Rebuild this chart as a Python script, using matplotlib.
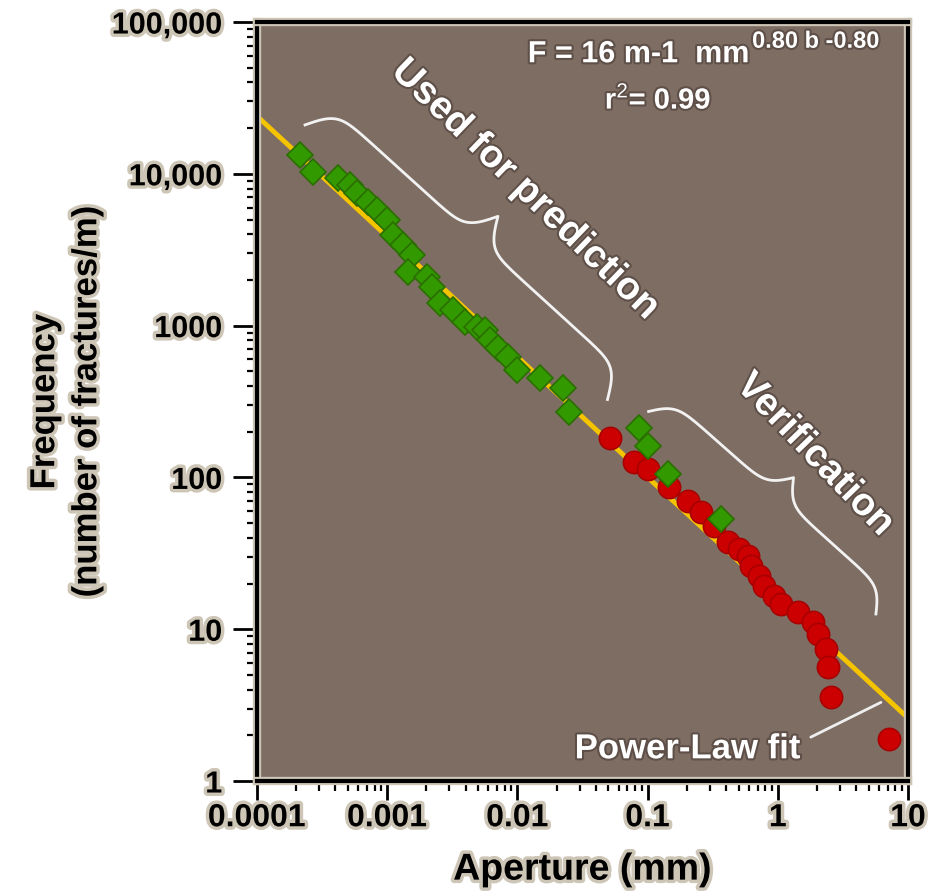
import numpy as np
import matplotlib
matplotlib.use("Agg")
import matplotlib.pyplot as plt
import matplotlib.patheffects as pe
from matplotlib.transforms import IdentityTransform

plt.rcParams['font.family'] = ['Liberation Sans', 'DejaVu Sans']
plt.rcParams['mathtext.fontset'] = 'custom'
plt.rcParams['mathtext.rm'] = 'Liberation Sans'
plt.rcParams['mathtext.bf'] = 'Liberation Sans:bold'

# green diamonds - used for prediction (aperture mm, fractures/m)
green_aperture = [2.14e-4, 2.70e-4, 4.2e-4, 5.2e-4, 5.9e-4, 7.1e-4, 8.4e-4, 1.0e-3,
                  1.11e-3, 1.33e-3, 1.56e-3, 1.45e-3, 2.03e-3, 2.22e-3, 2.56e-3,
                  3.22e-3, 3.98e-3, 4.92e-3, 5.67e-3, 6.2e-3, 7.14e-3, 8.4e-3,
                  0.0100, 0.0150, 0.0226, 0.0247, 0.0853, 0.100, 0.143, 0.365]
green_freq = [13300, 10300, 9400, 8470, 7500, 6540, 5800, 4980,
              3970, 3410, 2930, 2270, 2100, 1800, 1420,
              1270, 1060, 985, 940, 810, 716, 625,
              514, 455, 391, 268, 213, 160, 105, 53]

# red circles - verification
red_aperture = [0.0519, 0.078, 0.100, 0.145, 0.203, 0.256, 0.322, 0.412, 0.501,
                0.587, 0.62, 0.714, 0.78, 0.93, 1.05, 1.43, 1.86, 2.03, 2.34,
                2.43, 2.56, 7.14]
red_freq = [183, 127, 113, 87, 69.5, 58.8, 47.6, 37.4, 33.6,
            30.2, 26.0, 22.3, 19.2, 16.5, 14.6, 12.9, 11.1, 9.27, 7.38,
            5.62, 3.57, 1.89]

# power-law fit line, end points
fit_aperture = [1e-4, 10]
fit_freq = [24000, 2.6]

x_ticks = [1e-4, 1e-3, 1e-2, 1e-1, 1, 10]
x_ticklabels = ["0.0001", "0.001", "0.01", "0.1", "1", "10"]
y_ticks = [1, 10, 100, 1000, 1e4, 1e5]
y_ticklabels = ["1", "10", "100", "1000", "10,000", "100,000"]

BG = '#7e6d63'
HALO = '#cdc5b5'
halo = [pe.withStroke(linewidth=5, foreground=HALO)]
shadow = [pe.withStroke(linewidth=3, foreground='#5e5048')]


def brace(ax, p0, p1, height, beta=0.12, **kw):
    # curly brace between two data points, drawn in pixels
    a = ax.transData.transform(p0)
    b = ax.transData.transform(p1)
    d = b - a
    L = np.hypot(d[0], d[1])
    t = d / L
    n = np.array([-t[1], t[0]])
    if n[0] < 0:
        n = -n
    half = L / 2
    u = np.linspace(0, half, 300)
    s = 1 / (1 + np.exp(-beta * u)) + 1 / (1 + np.exp(-beta * (u - half)))
    v = np.concatenate([s, s[::-1]]) - 0.5
    uu = np.concatenate([u, L - u[::-1]])
    pts = a + np.outer(uu, t) + np.outer(v * height, n)
    ax.plot(pts[:, 0], pts[:, 1], transform=IdentityTransform(), **kw)


fig = plt.figure(figsize=(9.31, 8.92), dpi=100)
ax = fig.add_axes([0.276, 0.1244, 0.6993, 0.8509])
ax.set_facecolor(BG)
ax.set_xscale('log')
ax.set_yscale('log')
ax.set_xlim(1e-4, 10)
ax.set_ylim(1, 1e5)
ax.autoscale(False)

ax.plot(fit_aperture, fit_freq, color='#f5c400', lw=3.5, zorder=2)
ax.plot(red_aperture, red_freq, 'o', ms=16, mfc='#cc0000', mec='#a80000',
        mew=1.2, zorder=3)
ax.plot(green_aperture, green_freq, 'D', ms=13, mfc='#339900', mec='#2a6e00',
        mew=1.2, zorder=4)

ax.set_xticks(x_ticks, x_ticklabels)
ax.set_yticks(y_ticks, y_ticklabels)
ax.tick_params(axis='x', which='major', length=14, width=2, pad=2,
               labelsize=23, direction='out')
ax.tick_params(axis='x', which='minor', length=7, width=1.6, direction='out')
ax.tick_params(axis='y', which='major', length=17, width=2, pad=8,
               labelsize=22, direction='out')
ax.tick_params(axis='y', which='minor', length=7, width=1.6, direction='out')
for lbl in ax.get_xticklabels() + ax.get_yticklabels():
    lbl.set_fontweight('bold')
    lbl.set_path_effects(halo)
for sp in ax.spines.values():
    sp.set_linewidth(3)
    sp.set_color('black')
    sp.set_path_effects([pe.withStroke(linewidth=6, foreground=HALO)])

ax.set_xlabel("Aperture (mm)", fontsize=27, fontweight='bold', path_effects=halo)
ax.xaxis.set_label_coords(0.5, -0.093)
ax.set_ylabel("Frequency\n(number of fractures/m)", fontsize=25,
              fontweight='bold', linespacing=1.35, path_effects=halo)
ax.yaxis.set_label_coords(-0.236, 0.5)

# equation
eq = ax.text(0.416, 0.947, "F = 16 m-1  mm", transform=ax.transAxes,
             color='white', fontsize=22, fontweight='bold',
             ha='left', va='baseline', path_effects=shadow)
ax.annotate("0.80 b -0.80", xy=(1, 0.55), xycoords=eq, xytext=(2, 0),
            textcoords='offset points', color='white', fontsize=17,
            fontweight='bold', ha='left', va='bottom', path_effects=shadow)
ax.text(0.616, 0.897, r"r$^{\mathrm{2}}$= 0.99", transform=ax.transAxes,
        color='white', fontsize=21, fontweight='bold', ha='center',
        va='center', path_effects=shadow)

ax.text(0.412, 0.779, "Used for prediction", transform=ax.transAxes,
        color='white', fontsize=28, fontweight='bold', rotation=-44,
        ha='center', va='center', rotation_mode='anchor', path_effects=shadow)
ax.text(0.857, 0.4295, "Verification", transform=ax.transAxes,
        color='white', fontsize=28, fontweight='bold', rotation=-46,
        ha='center', va='center', rotation_mode='anchor', path_effects=shadow)

brace(ax, (2.34e-4, 21000), (0.0492, 326), 62, color='#f2f2f2', lw=2, zorder=5)
brace(ax, (0.1018, 272), (5.67, 12.6), 47, color='#f2f2f2', lw=2, zorder=5)

ax.annotate("Power-Law fit", xy=(6.2, 3.3), xytext=(0.203, 1.63),
            color='white', fontsize=25, fontweight='bold', ha='center',
            va='center', path_effects=shadow,
            arrowprops=dict(arrowstyle='-', color='#eeeeee', lw=2,
                            relpos=(1.0, 0.7), shrinkA=6, shrinkB=0))

fig.savefig("out.png", dpi=100)
